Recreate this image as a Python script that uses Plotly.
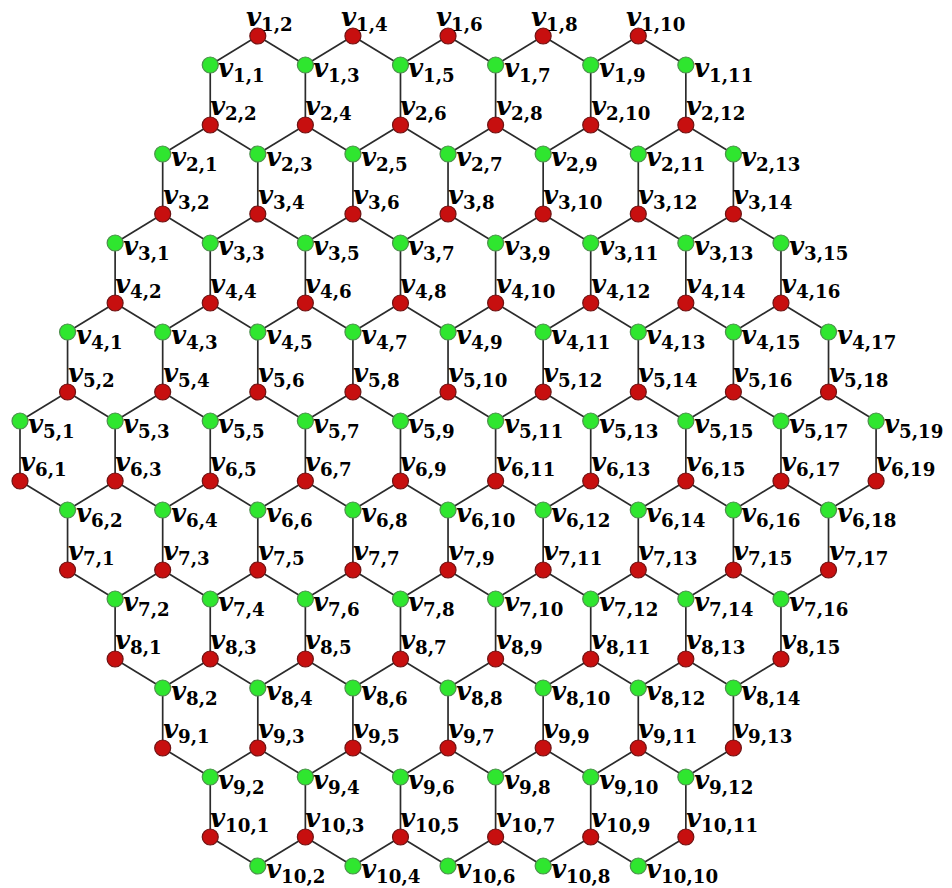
import plotly.graph_objects as go

# Hexagonal lattice: number of vertices in each row and horizontal offset (in half-hex steps)
ROW_SIZES = [11, 13, 15, 17, 19, 19, 17, 15, 13, 11]
ROW_OFFSETS = [4, 3, 2, 1, 0, 0, 1, 2, 3, 4]
UPPER_ROWS = 5  # rows 1..5 start with a low (green) vertex; rows 6..10 start with a high (red) one

PX = 47.56                 # pixels per half-hex horizontal step
ROW_PERIOD = 89.0 / PX     # vertical distance between rows (lattice units)
ZIG = 29.0 / PX            # zigzag amplitude (lattice units)

W, H = 952, 888
X0_PX, Y0_PX = 20.0, 36.0

GREEN = "#2fe62f"
GREEN_EDGE = "#4d8f4d"
RED = "#c70f0f"
RED_EDGE = "#6e1414"

pos = {}
low = {}
for i, (n, s) in enumerate(zip(ROW_SIZES, ROW_OFFSETS), start=1):
    for j in range(1, n + 1):
        k = s + j - 1
        is_low = (j % 2 == 1) if i <= UPPER_ROWS else (j % 2 == 0)
        y = -((i - 1) * ROW_PERIOD + (ZIG if is_low else 0.0))
        pos[(i, j)] = (k, y)
        low[(i, j)] = is_low

edges = []
for i, n in enumerate(ROW_SIZES, start=1):
    for j in range(1, n):
        edges.append(((i, j), (i, j + 1)))
for i, n in enumerate(ROW_SIZES[:-1], start=1):
    for j in range(1, n + 1):
        if not low[(i, j)]:
            continue
        if i < UPPER_ROWS:
            t = (i + 1, j + 1)
        elif i == UPPER_ROWS:
            t = (i + 1, j)
        else:
            t = (i + 1, j - 1)
        if t in pos:
            edges.append(((i, j), t))

ex, ey = [], []
for a, b in edges:
    ex += [pos[a][0], pos[b][0], None]
    ey += [pos[a][1], pos[b][1], None]

fig = go.Figure()
fig.add_trace(go.Scatter(x=ex, y=ey, mode="lines",
                         line=dict(color="#2b2b2b", width=1.7),
                         hoverinfo="skip", showlegend=False))

gx = [pos[v][0] for v in pos if low[v]]
gy = [pos[v][1] for v in pos if low[v]]
rx = [pos[v][0] for v in pos if not low[v]]
ry = [pos[v][1] for v in pos if not low[v]]
fig.add_trace(go.Scatter(x=gx, y=gy, mode="markers",
                         marker=dict(size=16, color=GREEN, line=dict(color=GREEN_EDGE, width=1.2)),
                         showlegend=False))
fig.add_trace(go.Scatter(x=rx, y=ry, mode="markers",
                         marker=dict(size=16, color=RED, line=dict(color=RED_EDGE, width=1.2)),
                         showlegend=False))

annotations = []
for (i, j), (x, y) in pos.items():
    text = f"<b><i>v</i><sub>{i},{j}</sub></b>"
    if low[(i, j)]:
        xs, ys = 6, -4
    else:
        xs = -14 if i == 1 else -2
        ys = 18
    annotations.append(dict(x=x, y=y, xref="x", yref="y", text=text, showarrow=False,
                            xanchor="left", yanchor="middle", xshift=xs, yshift=ys,
                            font=dict(family="DejaVu Serif", size=26, color="black")))

fig.update_layout(
    width=W, height=H,
    margin=dict(l=0, r=0, t=0, b=0),
    paper_bgcolor="white", plot_bgcolor="white",
    annotations=annotations,
    xaxis=dict(range=[-X0_PX / PX, (W - X0_PX) / PX], visible=False, fixedrange=True),
    yaxis=dict(range=[-(H - Y0_PX) / PX, Y0_PX / PX], visible=False, fixedrange=True),
)

fig.write_html("out.html", config={"displayModeBar": False},
               post_script="document.body.style.margin='0';")
